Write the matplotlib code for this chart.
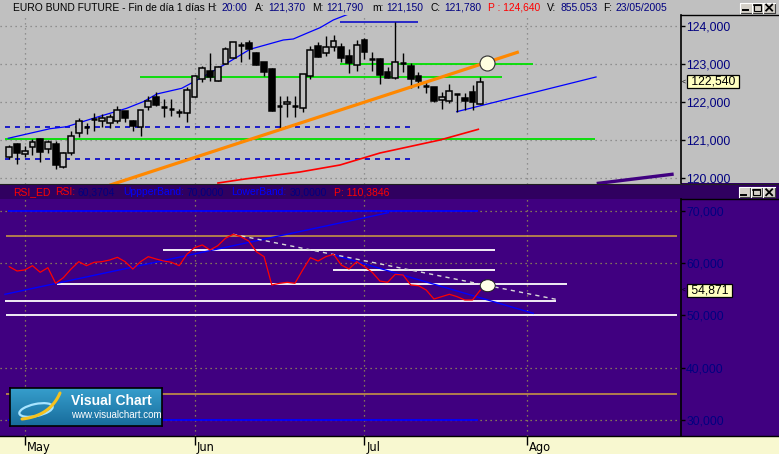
import matplotlib
matplotlib.use("Agg")
import matplotlib.pyplot as plt
import matplotlib.transforms as mtransforms
from matplotlib.patches import Rectangle, Ellipse
from matplotlib.lines import Line2D
import numpy as np

# ---------------- daily bars (Euro Bund future) ----------------
opens = [120.568, 120.895, 120.632, 120.816, 121.034, 120.763, 120.903, 120.305, 120.674, 121.184,
         121.358, 121.553, 121.500, 121.463, 121.516, 121.771, 121.508, 121.358, 121.868, 122.132,
         121.868, 121.816, 121.753, 121.726, 122.147, 122.621, 122.816, 122.568, 123.000, 123.174,
         123.516, 123.553, 123.289, 123.053, 122.876, 121.911, 121.947, 121.911, 121.858, 122.700,
         123.474, 123.305, 123.463, 123.447, 123.211, 122.989, 123.632, 123.139, 123.139, 122.789,
         122.632, 123.042, 122.955, 122.692, 122.437, 122.403, 122.053, 122.042, 122.211, 122.105,
         122.263, 121.963]
highs = [120.876, 120.921, 120.850, 121.026, 121.068, 121.008, 120.982, 120.700, 121.245, 121.579,
         121.463, 121.711, 121.684, 121.684, 121.911, 121.771, 121.534, 121.797, 122.166, 122.279,
         122.079, 122.087, 121.816, 122.395, 122.718, 122.955, 123.289, 122.955, 123.447, 123.579,
         123.587, 123.639, 123.324, 123.053, 122.903, 122.166, 122.166, 122.166, 122.737, 123.474,
         123.579, 123.753, 123.771, 123.553, 123.395, 123.639, 123.700, 123.332, 123.174, 122.921,
         124.105, 123.305, 123.026, 122.805, 122.561, 122.403, 122.279, 122.482, 122.226, 122.245,
         122.455, 122.666]
lows = [120.508, 120.368, 120.568, 120.613, 120.437, 120.674, 120.237, 120.263, 120.613, 121.095,
        121.174, 121.253, 121.342, 121.332, 121.447, 121.489, 121.253, 121.113, 121.797, 121.903,
        121.605, 121.647, 121.605, 121.482, 122.147, 122.542, 122.568, 122.568, 123.000, 123.174,
        123.068, 123.132, 122.982, 122.692, 121.779, 121.271, 121.621, 121.621, 121.753, 122.605,
        123.200, 123.226, 123.358, 123.068, 122.779, 122.832, 123.139, 122.832, 122.489, 122.632,
        122.605, 122.805, 122.384, 122.384, 122.253, 122.000, 121.824, 121.989, 121.753, 121.797,
        121.805, 121.963]
closes = [120.824, 120.674, 120.718, 120.947, 120.700, 120.947, 120.358, 120.658, 121.105, 121.500,
          121.358, 121.553, 121.587, 121.605, 121.797, 121.579, 121.384, 121.789, 122.034, 121.937,
          121.868, 121.816, 121.753, 122.316, 122.684, 122.895, 122.674, 122.921, 123.395, 123.579,
          123.516, 123.395, 122.982, 122.805, 121.779, 121.911, 122.000, 121.911, 122.737, 123.368,
          123.200, 123.447, 123.613, 123.174, 123.042, 123.500, 123.316, 123.139, 122.718, 122.647,
          123.068, 123.042, 122.605, 122.561, 122.437, 122.034, 122.132, 122.297, 122.211, 122.042,
          122.000, 122.540]

# RSI study values, one per bar
rsi = [59.38, 58.56, 58.75, 59.58, 58.31, 59.19, 56.19, 57.27, 58.94, 60.35,
       59.58, 60.23, 60.35, 60.67, 61.19, 60.35, 58.94, 60.35, 61.31, 60.87,
       60.48, 60.23, 59.58, 61.77, 63.04, 63.56, 62.60, 63.42, 64.85, 65.62,
       65.15, 64.33, 62.27, 61.31, 55.87, 56.19, 56.38, 56.19, 58.75, 61.12,
       60.48, 61.31, 61.77, 59.71, 58.94, 60.35, 59.38, 58.31, 56.63, 56.38,
       57.92, 57.79, 55.87, 55.73, 54.90, 53.17, 53.62, 54.08, 53.62, 52.98,
       52.98, 54.871]

month_labels = ["May", "Jun", "Jul", "Ago"]
month_bars = [2, 24, 46, 67]
price_ticks = [120, 121, 122, 123, 124]
rsi_grid = [30, 40, 60, 70]
rsi_ticks = [30, 40, 50, 60, 70]
last_price = 122.540
last_rsi = 54.871

# ---------------- drawn studies on the price panel ----------------
env_bars = [-0.13, 5.27, 7.44, 10.88, 15.2, 17.36, 19.1, 22.33, 25.13, 28.16, 31.18,
            35.49, 36.79, 38.52, 40.25, 41.97, 43.91]
env_prices = [121.053, 121.305, 121.358, 121.579, 121.842, 122.016, 122.218, 122.368,
              122.674, 123.026, 123.395, 123.639, 123.666, 123.816, 123.963, 124.166, 124.32]
top_level = (124.105, 42.8, 52.9)
trend_bars = [13.0, 66.0]
trend_prices = [119.819, 123.327]
lowband_bars = [27.03, 30.53, 37.66, 42.84, 48.02, 55.79, 60.75]
lowband_prices = [119.876, 119.982, 120.166, 120.350, 120.666, 121.008, 121.289]
support_bars = [57.95, 76.0]
support_prices = [121.753, 122.666]
purple_bars = [76.3, 85.84]
purple_prices = [119.868, 120.105]
green_levels = [(122.658, 16.93, 63.8), (123.016, 42.8, 67.8), (121.021, -0.56, 75.9)]
dashed_levels = [(121.342, -0.56, 52.6), (120.500, -0.56, 52.6)]
price_marker = (61.9, 123.042)

# ---------------- drawn studies on the RSI panel ----------------
band_upper, band_lower = 70.0, 30.0
band_span = (-0.13, 60.75)
gold_levels = [65.2, 35.0]
white_levels = [(62.5, 19.87, 62.92), (58.7, 41.97, 62.92), (56.0, 6.14, 72.24),
                (52.7, -0.56, 70.78), (50.0, -0.43, 86.49)]
rsi_up_bars = [-0.56, 49.1]
rsi_up_vals = [54.08, 69.77]
rsi_down_bars = [41.76, 67.87]
rsi_down_vals = [61.77, 50.42]
rsi_proj_bars = [28.98, 70.78]
rsi_proj_vals = [65.62, 53.12]
rsi_marker = (61.97, 55.73)

# ---------------- figure layout (pixel based) ----------------
W, H, DPI = 779, 454, 100
PT = 72.0 / DPI
GREY = "#c0c0c0"
PURPLE = "#400080"
HEADER = "#300060"
NAVY = "#000080"
XBAND = "#f8f8d0"
FONT = "Liberation Sans"

fig = plt.figure(figsize=(W / DPI, H / DPI), dpi=DPI)
fig.patch.set_facecolor(GREY)


def box(x0, y0, x1, y1):
    return [x0 / W, 1 - y1 / H, (x1 - x0) / W, (y1 - y0) / H]


def fig_rect(x0, y0, x1, y1, **kw):
    fig.add_artist(Rectangle((x0 / W, 1 - y1 / H), (x1 - x0) / W, (y1 - y0) / H,
                             transform=fig.transFigure, **kw))


def fig_line(xs, ys, **kw):
    fig.add_artist(Line2D([x / W for x in xs], [1 - y / H for y in ys],
                          transform=fig.transFigure, **kw))


def fig_text(x, y, s, **kw):
    fig.text(x / W, 1 - y / H, s, **kw)


XL = (-1.205, 86.94)
AXIS_X = 680.5

# backgrounds of the right-hand scale areas, the RSI header and the date strip
# (drawn beneath the axes so tick labels stay visible)
fig_rect(AXIS_X, 199, W, 436, facecolor=PURPLE, edgecolor="none", zorder=-2)
fig_rect(0, 183.5, W, 199, facecolor=HEADER, edgecolor="none", zorder=-2)
fig_rect(0, 436, W, H, facecolor=XBAND, edgecolor="none", zorder=-2)


def style_axes(ax, face, grid_color, yticks, ylim, tick_label_color, fmt):
    ax.set_facecolor(face)
    ax.set_xlim(*XL)
    ax.set_ylim(*ylim)
    for s in ["top", "left", "bottom"]:
        ax.spines[s].set_visible(False)
    ax.spines["right"].set_color("black")
    ax.spines["right"].set_linewidth(1.2)
    ax.yaxis.tick_right()
    ax.set_yticks(yticks)
    ax.set_yticklabels([fmt(v) for v in yticks])
    ax.tick_params(axis="y", direction="out", length=4 * PT, width=1, color="black",
                   labelcolor=tick_label_color, labelsize=8.8, pad=1.2)
    for lab in ax.get_yticklabels():
        lab.set_fontfamily(FONT)
    ax.set_xticks([])
    for b in month_bars:
        ax.axvline(b, color=grid_color, lw=0.9, ls=(0, (1, 3)), zorder=0.6)


fmt3 = lambda v: f"{v:.3f}".replace(".", ",")

# ================= price panel =================
ax = fig.add_axes(box(0, 15, AXIS_X, 183.5))
style_axes(ax, GREY, "#808080", price_ticks, (119.863, 124.297), NAVY, fmt3)
for p in price_ticks:
    ax.axhline(p, color="#808080", lw=0.9, ls=(0, (1, 3)), zorder=0.6)

# horizontal study levels
for lvl, b0, b1 in green_levels:
    ax.hlines(lvl, b0, b1, color="#00e000", lw=1.3, zorder=1)
for lvl, b0, b1 in dashed_levels:
    ax.hlines(lvl, b0, b1, color="#0000c8", lw=1.2, linestyles=(0, (3, 3)), zorder=1)
ax.hlines(top_level[0], top_level[1], top_level[2], color="#0000c8", lw=1.1, zorder=1)

# sloped studies
ax.plot(env_bars, env_prices, color="#0000ff", lw=0.9, zorder=2)
ax.plot(lowband_bars, lowband_prices, color="#ff0000", lw=1.2, zorder=2)
ax.plot(support_bars, support_prices, color="#0000ff", lw=0.9, zorder=2)
ax.plot(purple_bars, purple_prices, color=PURPLE, lw=2.4, zorder=2)

# candles
bw = 0.75
for i, (o, h, l, c) in enumerate(zip(opens, highs, lows, closes)):
    ax.vlines(i, l, h, color="black", lw=1.0, zorder=3)
    if abs(c - o) < 1e-6:
        ax.hlines(o, i - bw / 2, i + bw / 2, color="black", lw=1.8, zorder=4)
    else:
        face = GREY if c > o else "black"
        ax.add_patch(Rectangle((i - bw / 2, min(o, c)), bw, abs(c - o), facecolor=face,
                               edgecolor="black", lw=1.1, zorder=4))

ax.plot(trend_bars, trend_prices, color="#ff8800", lw=2.3, zorder=5, solid_capstyle="butt")
ax.plot([price_marker[0]], [price_marker[1]], marker="o", ms=15 * PT, mfc="#ffffe0",
        mec="#303030", mew=0.8, zorder=6)

# last price flag
ytr = ax.get_yaxis_transform()
ax.text(1.0, last_price, " 122,540 ", transform=mtransforms.offset_copy(ytr, fig, x=7, units="dots"),
        fontsize=8.8, family=FONT, color="black", va="center", ha="left", clip_on=False,
        bbox=dict(boxstyle="square,pad=0.05", fc="#ffffc0", ec="black", lw=0.9), zorder=10)
ax.text(1.0, last_price, "<", transform=mtransforms.offset_copy(ytr, fig, x=1.5, units="dots"),
        fontsize=5, family=FONT, color="black", va="center", ha="left", clip_on=False)

# ================= RSI panel =================
ax2 = fig.add_axes(box(0, 199, AXIS_X, 436))
style_axes(ax2, PURPLE, "#9a9a50", rsi_ticks, (26.83, 72.40), NAVY, fmt3)
for v in rsi_grid:
    ax2.axhline(v, color="#9a9a50", lw=0.9, ls=(0, (1, 3)), zorder=0.6)

for lvl in gold_levels:
    ax2.hlines(lvl, -0.43, 86.49, color="#d0a040", lw=1.1, zorder=1)
ax2.hlines([band_upper, band_lower], band_span[0], band_span[1], color="#0000ff", lw=1.3, zorder=1)
for lvl, b0, b1 in white_levels:
    ax2.hlines(lvl, b0, b1, color="white", lw=1.3, zorder=1)
ax2.plot(rsi_up_bars, rsi_up_vals, color="#0000ff", lw=1.0, zorder=2)
ax2.plot(rsi_down_bars, rsi_down_vals, color="#0000ff", lw=1.0, zorder=2)
ax2.plot(rsi_proj_bars, rsi_proj_vals, color="#d8d8d8", lw=1.0, ls=(0, (3, 3)), zorder=2)
ax2.plot(range(len(rsi)), rsi, color="#ff0000", lw=0.9, zorder=3)
ax2.add_patch(Ellipse(rsi_marker, 15 / 7.72, 12 / 5.2, facecolor="#ffffe8", edgecolor="#202020",
                      lw=0.7, zorder=6))

ytr2 = ax2.get_yaxis_transform()
ax2.text(1.0, last_rsi, " 54,871 ", transform=mtransforms.offset_copy(ytr2, fig, x=7, units="dots"),
         fontsize=8.8, family=FONT, color="black", va="center", ha="left", clip_on=False,
         bbox=dict(boxstyle="square,pad=0.05", fc="#ffffc0", ec="black", lw=0.9), zorder=10)
ax2.text(1.0, last_rsi, "<", transform=mtransforms.offset_copy(ytr2, fig, x=1.5, units="dots"),
         fontsize=5, family=FONT, color="black", va="center", ha="left", clip_on=False)

# date axis: ticks hanging into the pale strip, labels to the right of each tick
ax2.set_xticks(month_bars)
ax2.set_xticklabels([""] * len(month_bars))
ax2.tick_params(axis="x", direction="out", length=9 * PT, width=1, color="black")
xtr = ax2.get_xaxis_transform()
for b, lab in zip(month_bars, month_labels):
    ax2.text(b, 0, lab, transform=mtransforms.offset_copy(xtr, fig, x=2, y=-5.5, units="dots"),
             fontsize=8.3, family="Liberation Sans Narrow", color="black", ha="left", va="top",
             clip_on=False)

# frame lines
fig_line([0, W], [436, 436], color="black", lw=1.0, zorder=3)
fig_line([AXIS_X, W], [15, 15], color="black", lw=1.0, zorder=3)
fig_line([AXIS_X, W], [199, 199], color="black", lw=1.0, zorder=3)
fig_line([0, W], [183.7, 183.7], color="#202020", lw=0.8, zorder=3)

# ---------------- header texts ----------------
title_parts = [(13.3, "EURO BUND FUTURE - Fin de día 1 días", "black"), (207.5, "H:", "black"),
               (221.7, "20:00", NAVY),
               (255, "A:", "black"), (268.3, "121,370", NAVY), (311.7, "M:", "black"),
               (326.7, "121,790", NAVY), (372.7, "m:", "black"), (386.0, "121,150", NAVY),
               (430.7, "C:", "black"), (444.3, "121,780", NAVY), (487.7, "P : 124,640", "#ff0000"),
               (547.3, "V:", "black"), (560.7, "855.053", NAVY), (603.3, "F:", "black"),
               (615.7, "23/05/2005", NAVY)]
for x, s, col in title_parts:
    fig_text(x, 10.8, s, fontsize=7.4, family=FONT, color=col, va="baseline", zorder=8)

rsi_parts = [(13.3, "RSI_ED", "#ff0000"), (55, "RSI:", "#ff0000"), (77.3, "60,3704", NAVY),
             (123.3, "UppperBand:", "#0000ff"), (186, "70,0000", NAVY), (231, "LowerBand:", "#0000ff"),
             (289.3, "30,0000", NAVY), (334.3, "P: 110,3846", "#ff0000")]
for x, s, col in rsi_parts:
    fig_text(x, 195.2, s, fontsize=7.5, family=FONT, color=col, va="baseline", zorder=8)


# ---------------- window buttons ----------------
def buttons(y0, y1, xs):
    for k, (x0, x1) in enumerate(xs):
        fig_rect(x0, y0, x1, y1, facecolor="#d4d0c8", edgecolor="none", zorder=6)
        fig_line([x0, x1, x1], [y1, y1, y0], color="#404040", lw=0.8, zorder=7)
        fig_line([x0, x0, x1], [y1, y0, y0], color="white", lw=0.8, zorder=7)
        cx, cy = (x0 + x1) / 2, (y0 + y1) / 2
        if k == 0:
            fig_line([cx - 3, cx + 2], [y1 - 2.5, y1 - 2.5], color="black", lw=1.4, zorder=8)
        elif k == 1:
            fig_rect(cx - 3.5, cy - 3, cx + 3.5, cy + 3, facecolor="none", edgecolor="black",
                     lw=0.8, zorder=8)
            fig_line([cx - 3.5, cx + 3.5], [cy - 2.5, cy - 2.5], color="black", lw=1.2, zorder=8)
        else:
            fig_line([cx - 3, cx + 3], [cy - 3, cy + 3], color="black", lw=1.3, zorder=8)
            fig_line([cx - 3, cx + 3], [cy + 3, cy - 3], color="black", lw=1.3, zorder=8)


buttons(2.7, 12.5, [(740, 751.5), (751.7, 762.5), (763.3, 775)])
buttons(187.5, 197, [(739, 749.5), (750.7, 761.7), (763.3, 775)])

# ---------------- Visual Chart badge ----------------
lax = fig.add_axes(box(10, 388, 162, 426), zorder=5)
grad = np.linspace(0, 1, 40)[:, None] * np.ones((1, 152))
top_c = np.array([0x36, 0x9e, 0xcc]) / 255.0
bot_c = np.array([0x18, 0x6c, 0x9c]) / 255.0
img = top_c[None, None, :] * (1 - grad[..., None]) + bot_c[None, None, :] * grad[..., None]
lax.imshow(img, extent=(0, 152, 38, 0), aspect="auto")
lax.set_xlim(0, 152)
lax.set_ylim(38, 0)
lax.set_xticks([])
lax.set_yticks([])
for s in lax.spines.values():
    s.set_color("black")
    s.set_linewidth(1.2)
lax.add_patch(Ellipse((26, 22), 34, 12, angle=-12, facecolor="none", edgecolor="#a8e4ff", lw=1.6))
tt = np.linspace(0, 1, 30)
sx = (1 - tt) ** 2 * 12 + 2 * (1 - tt) * tt * 40 + tt ** 2 * 50
sy = (1 - tt) ** 2 * 31 + 2 * (1 - tt) * tt * 28 + tt ** 2 * 5
lax.plot(sx, sy, color="#f6c21e", lw=2.2, solid_capstyle="round")
lax.text(61, 13, "Visual Chart", color="white", fontsize=10, family=FONT, fontweight="bold",
         va="center", ha="left")
lax.text(61, 26.5, "www.visualchart.com", color="white", fontsize=7, family=FONT,
         va="center", ha="left")

fig.savefig("out.png", dpi=DPI, facecolor=fig.get_facecolor())
